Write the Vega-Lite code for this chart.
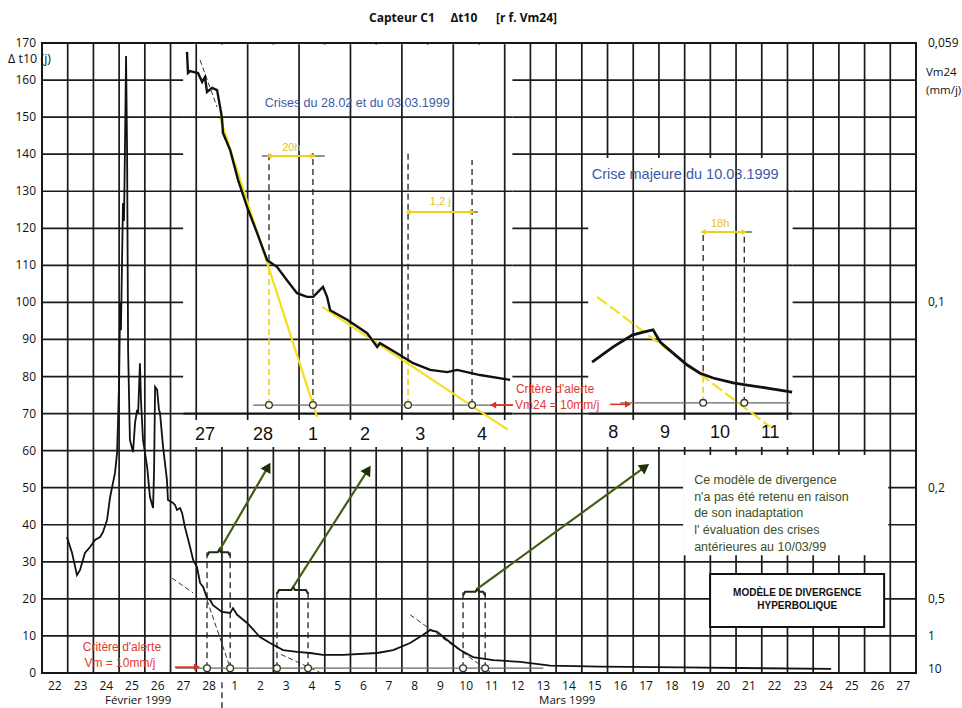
{
"$schema": "https://vega.github.io/schema/vega-lite/v6.json",
"width": 874, "height": 630,
"autosize": {"type": "none"},
"padding": {"left": 42, "top": 43, "right": 46, "bottom": 35},
"background": "white",
"config": {"view": {"stroke": "#111", "strokeWidth": 2}, "font": "Open Sans", "axis": {"disable": true}, "text": {"font": "Liberation Sans"}},
"datasets": {
"gv": [{"d":0},{"d":1},{"d":2},{"d":3},{"d":4},{"d":5},{"d":6},{"d":7},{"d":8},{"d":9},{"d":10},{"d":11},{"d":12},{"d":13},{"d":14},{"d":15},{"d":16},{"d":17},{"d":18},{"d":19},{"d":20},{"d":21},{"d":22},{"d":23},{"d":24},{"d":25},{"d":26},{"d":27},{"d":28},{"d":29},{"d":30},{"d":31},{"d":32},{"d":33},{"d":34}],
"gh": [{"v":0},{"v":10},{"v":20},{"v":30},{"v":40},{"v":50},{"v":60},{"v":70},{"v":80},{"v":90},{"v":100},{"v":110},{"v":120},{"v":130},{"v":140},{"v":150},{"v":160},{"v":170}],
"xlab": [{"d":0.5,"t":"22"},{"d":1.5,"t":"23"},{"d":2.5,"t":"24"},{"d":3.5,"t":"25"},{"d":4.5,"t":"26"},{"d":5.5,"t":"27"},{"d":6.5,"t":"28"},{"d":7.5,"t":"1"},{"d":8.5,"t":"2"},{"d":9.5,"t":"3"},{"d":10.5,"t":"4"},{"d":11.5,"t":"5"},{"d":12.5,"t":"6"},{"d":13.5,"t":"7"},{"d":14.5,"t":"8"},{"d":15.5,"t":"9"},{"d":16.5,"t":"10"},{"d":17.5,"t":"11"},{"d":18.5,"t":"12"},{"d":19.5,"t":"13"},{"d":20.5,"t":"14"},{"d":21.5,"t":"15"},{"d":22.5,"t":"16"},{"d":23.5,"t":"17"},{"d":24.5,"t":"18"},{"d":25.5,"t":"19"},{"d":26.5,"t":"20"},{"d":27.5,"t":"21"},{"d":28.5,"t":"22"},{"d":29.5,"t":"23"},{"d":30.5,"t":"24"},{"d":31.5,"t":"25"},{"d":32.5,"t":"26"},{"d":33.5,"t":"27"}],
"ylab": [{"v":0,"t":"0"},{"v":10,"t":"10"},{"v":20,"t":"20"},{"v":30,"t":"30"},{"v":40,"t":"40"},{"v":50,"t":"50"},{"v":60,"t":"60"},{"v":70,"t":"70"},{"v":80,"t":"80"},{"v":90,"t":"90"},{"v":100,"t":"100"},{"v":110,"t":"110"},{"v":120,"t":"120"},{"v":130,"t":"130"},{"v":140,"t":"140"},{"v":150,"t":"150"},{"v":160,"t":"160"},{"v":170,"t":"170"}],
"ytitle": [{"v":165.7,"t":"Δ t10 (j)"}],
"main": [{"d":0.97,"v":36.7},{"d":1.17,"v":32.4},{"d":1.36,"v":26.4},{"d":1.48,"v":27.8},{"d":1.67,"v":32.4},{"d":1.87,"v":34.0},{"d":2.06,"v":35.9},{"d":2.26,"v":36.7},{"d":2.37,"v":38.0},{"d":2.53,"v":41.3},{"d":2.65,"v":47.5},{"d":2.84,"v":54.0},{"d":2.92,"v":59.4},{"d":2.96,"v":68.3},{"d":3.0,"v":79.0},{"d":3.04,"v":100.0},{"d":3.07,"v":92.5},{"d":3.15,"v":126.8},{"d":3.19,"v":122.0},{"d":3.23,"v":143.0},{"d":3.27,"v":166.5},{"d":3.31,"v":141.0},{"d":3.35,"v":87.0},{"d":3.42,"v":62.9},{"d":3.54,"v":59.6},{"d":3.62,"v":67.5},{"d":3.70,"v":71.0},{"d":3.74,"v":70.2},{"d":3.81,"v":83.6},{"d":3.85,"v":73.7},{"d":3.93,"v":62.9},{"d":4.09,"v":55.6},{"d":4.20,"v":47.5},{"d":4.32,"v":44.5},{"d":4.36,"v":54.8},{"d":4.40,"v":77.2},{"d":4.48,"v":76.4},{"d":4.55,"v":71.0},{"d":4.59,"v":70.2},{"d":4.71,"v":61.0},{"d":4.86,"v":52.1},{"d":4.90,"v":46.7},{"d":5.10,"v":45.9},{"d":5.18,"v":45.3},{"d":5.25,"v":44.0},{"d":5.37,"v":44.5},{"d":5.45,"v":43.2},{"d":5.56,"v":39.4},{"d":5.76,"v":34.0},{"d":5.88,"v":30.5},{"d":6.03,"v":28.6},{"d":6.15,"v":24.3},{"d":6.27,"v":23.2},{"d":6.42,"v":20.2},{"d":6.54,"v":19.7},{"d":6.65,"v":18.3},{"d":7.0,"v":16.5},{"d":7.32,"v":16.2},{"d":7.43,"v":17.5},{"d":7.59,"v":15.7},{"d":7.98,"v":13.5},{"d":8.48,"v":9.7},{"d":8.87,"v":8.1},{"d":9.38,"v":6.2},{"d":9.92,"v":5.7},{"d":10.43,"v":5.4},{"d":10.93,"v":4.9},{"d":11.71,"v":4.9},{"d":13.04,"v":5.4},{"d":13.66,"v":6.2},{"d":14.32,"v":8.1},{"d":14.83,"v":10.3},{"d":15.10,"v":11.6},{"d":15.37,"v":11.1},{"d":15.76,"v":8.9},{"d":16.27,"v":6.2},{"d":16.77,"v":4.3},{"d":17.55,"v":3.5},{"d":18.6,"v":3.0},{"d":19.77,"v":2.0},{"d":21.7,"v":1.7},{"d":24.9,"v":1.5},{"d":30.7,"v":1.1}],
"inset1": [{"d":5.64,"v":167.6},{"d":5.68,"v":161.9},{"d":5.76,"v":162.4},{"d":5.88,"v":162.2},{"d":6.07,"v":161.9},{"d":6.23,"v":159.5},{"d":6.34,"v":160.8},{"d":6.42,"v":156.8},{"d":6.62,"v":157.9},{"d":6.81,"v":157.3},{"d":6.93,"v":152.7},{"d":7.0,"v":149.8},{"d":7.04,"v":145.7},{"d":7.32,"v":141.1},{"d":7.63,"v":133.0},{"d":7.98,"v":125.7},{"d":8.37,"v":118.7},{"d":8.76,"v":111.4},{"d":9.14,"v":109.6},{"d":9.53,"v":106.0},{"d":9.92,"v":102.5},{"d":10.31,"v":101.5},{"d":10.55,"v":101.5},{"d":10.93,"v":104.2},{"d":11.09,"v":101.5},{"d":11.21,"v":97.9},{"d":11.87,"v":95.3},{"d":12.65,"v":91.7},{"d":13.04,"v":88.0},{"d":13.15,"v":89.0},{"d":13.81,"v":86.3},{"d":14.44,"v":83.6},{"d":15.10,"v":81.8},{"d":15.76,"v":81.2},{"d":16.15,"v":81.8},{"d":17.04,"v":80.4},{"d":18.21,"v":79.1}],
"inset2": [{"d":21.40,"v":83.9},{"d":22.22,"v":88.0},{"d":22.96,"v":91.2},{"d":23.39,"v":92.0},{"d":23.77,"v":92.6},{"d":24.05,"v":89.3},{"d":24.55,"v":86.3},{"d":25.10,"v":83.1},{"d":25.60,"v":80.9},{"d":26.11,"v":79.6},{"d":26.89,"v":78.3},{"d":27.43,"v":77.7},{"d":28.21,"v":76.9},{"d":29.18,"v":75.8}],
"boxes": [{"d":5.49,"d2":18.3,"v":61,"v2":169.6},{"d":21.25,"d2":29.2,"v":61,"v2":139},{"d":24.94,"d2":32.92,"v":31.8,"v2":58.8}],
"modbox": [{"d":25.99,"d2":32.76,"v":12.4,"v2":26.7}],
"igv": [{"d":6,"v":68.3,"v2":169.6},{"d":8,"v":68.3,"v2":169.6},{"d":10,"v":68.3,"v2":169.6},{"d":12,"v":68.3,"v2":169.6},{"d":14,"v":68.3,"v2":169.6},{"d":16,"v":68.3,"v2":169.6},{"d":18,"v":68.3,"v2":169.6},{"d":23,"v":68.3,"v2":139},{"d":25,"v":68.3,"v2":139},{"d":27,"v":68.3,"v2":139},{"d":29,"v":68.3,"v2":139}],
"igh": [{"v":150,"d":5.49,"d2":18.3},{"v":130,"d":5.49,"d2":18.3},{"v":110,"d":5.49,"d2":18.3},{"v":90,"d":5.49,"d2":18.3},{"v":130,"d":21.25,"d2":29.2},{"v":110,"d":21.25,"d2":29.2},{"v":90,"d":21.25,"d2":29.2}],
"ig70": [{"v":70,"d":5.49,"d2":18.3},{"v":70,"d":21.25,"d2":29.2}],
"tang": [{"g":1,"d":5.06,"v":25.6},{"g":1,"d":5.88,"v":21.6},{"g":2,"d":6.42,"v":19.7},{"g":2,"d":7.39,"v":0},{"g":3,"d":9.3,"v":5.0},{"g":3,"d":10.86,"v":0},{"g":4,"d":14.32,"v":15.7},{"g":4,"d":17.43,"v":0.3},{"g":5,"d":6.15,"v":165.4},{"g":5,"d":6.81,"v":152.7}],
"thin": [{"d":5.2,"d2":19.5,"v":1.3},{"d":8.21,"d2":18.3,"v":72.3},{"d":22.5,"d2":29.1,"v":72.9}],
"dvb": [{"d":8.83,"v":111.4,"v2":140.3},{"d":10.54,"v":72.3,"v2":140.3},{"d":14.24,"v":84.5,"v2":140.3},{"d":16.73,"v":72.3,"v2":138.4},{"d":25.72,"v":81.5,"v2":119},{"d":27.32,"v":72.9,"v2":119},{"d":6.42,"v":1.3,"v2":33.5},{"d":7.32,"v":1.3,"v2":33.5},{"d":9.14,"v":1.3,"v2":22.8},{"d":10.35,"v":1.3,"v2":22.8},{"d":16.38,"v":1.3,"v2":22.3},{"d":17.24,"v":1.3,"v2":22.3},{"d":7.0,"v":-9.5,"v2":-2}],
"dvy": [{"d":8.83,"v":72.3,"v2":111.4},{"d":14.24,"v":72.3,"v2":84.5},{"d":25.72,"v":72.9,"v2":81.5}],
"yl": [{"g":"A","d":6.93,"v":149.8},{"g":"A","d":10.7,"v":69.1},{"g":"B","d":10.9,"v":98.8},{"g":"B","d":18.13,"v":65.6}],
"yld": [{"d":21.6,"v":101.5},{"d":28.33,"v":66.4}],
"brk": [{"g":1,"d":6.42,"v":31.6},{"g":1,"d":6.5,"v":32.6},{"g":1,"d":6.84,"v":32.6},{"g":1,"d":6.9,"v":33.4},{"g":1,"d":6.96,"v":32.6},{"g":1,"d":7.24,"v":32.6},{"g":1,"d":7.32,"v":31.6},{"g":2,"d":9.14,"v":21.4},{"g":2,"d":9.22,"v":22.4},{"g":2,"d":9.7,"v":22.4},{"g":2,"d":9.77,"v":23.2},{"g":2,"d":9.84,"v":22.4},{"g":2,"d":10.27,"v":22.4},{"g":2,"d":10.35,"v":21.4},{"g":3,"d":16.38,"v":20.9},{"g":3,"d":16.46,"v":21.9},{"g":3,"d":16.86,"v":21.9},{"g":3,"d":16.93,"v":22.7},{"g":3,"d":17.0,"v":21.9},{"g":3,"d":17.16,"v":21.9},{"g":3,"d":17.24,"v":20.9}],
"garr": [{"id":1,"d":6.93,"v":33.4,"d2":8.79,"v2":55.6},{"id":2,"d":9.77,"v":23.2,"d2":12.68,"v2":54.8},{"id":3,"d":16.93,"v":22.7,"d2":23.46,"v2":55.6}],
"rarr": [{"d":17.55,"d2":18.33,"v":72.3,"dir":"L"},{"d":22.8,"d2":22.1,"v":72.5,"dir":"R"},{"d":6.03,"d2":5.17,"v":1.6,"dir":"R"}],
"yarr": [{"d":8.83,"d2":10.54,"v":139.5},{"d":14.24,"d2":16.73,"v":124.4},{"d":25.72,"d2":27.32,"v":119}],
"ybl": [{"d":8.56,"d2":11.0,"v":139.5},{"d":14.32,"d2":16.96,"v":124.4},{"d":25.72,"d2":27.63,"v":119}],
"circ": [{"d":8.83,"v":72.3},{"d":10.54,"v":72.3},{"d":14.24,"v":72.3},{"d":16.73,"v":72.3},{"d":25.72,"v":72.9},{"d":27.32,"v":72.9},{"d":6.42,"v":1.3},{"d":7.32,"v":1.3},{"d":9.14,"v":1.3},{"d":10.35,"v":1.3},{"d":16.38,"v":1.3},{"d":17.24,"v":1.3}],
"blue1": [{"d":12.26,"v":153.8,"t":"Crises du 28.02 et du 03.03.1999"}],
"blue2": [{"d":25.02,"v":134.4,"t":"Crise majeure du 10.03.1999"}],
"ytext": [{"d":9.7,"v":141.8,"t":"20h"},{"d":15.49,"v":127.1,"t":"1,2 j"},{"d":26.38,"v":121.2,"t":"18h"}],
"red": [{"d":3.11,"v":7.0,"t":"Critère d'alerte"},{"d":3.03,"v":2.7,"t":"Vm = 10mm/j"},{"d":19.96,"v":76.6,"t":"Critère d'alerte"},{"d":20.04,"v":72.3,"t":"Vm24 = 10mm/j"}],
"ilab": [{"d":6.34,"v":64.2,"t":"27"},{"d":8.6,"v":64.2,"t":"28"},{"d":10.54,"v":64.2,"t":"1"},{"d":12.57,"v":64.2,"t":"2"},{"d":14.71,"v":64.2,"t":"3"},{"d":17.12,"v":64.2,"t":"4"},{"d":22.22,"v":64.8,"t":"8"},{"d":24.24,"v":64.8,"t":"9"},{"d":26.38,"v":64.8,"t":"10"},{"d":28.33,"v":64.8,"t":"11"}],
"green": [{"d":25.37,"v":52.1,"t":"Ce modèle de divergence"},{"d":25.37,"v":47.5,"t":"n'a pas  été  retenu en raison"},{"d":25.37,"v":43.2,"t":"de son inadaptation"},{"d":25.37,"v":38.6,"t":"l' évaluation des crises"},{"d":25.37,"v":34.0,"t":"antérieures au 10/03/99"}],
"boxt": [{"d":29.38,"v":21.6,"t":"MODÈLE DE DIVERGENCE"},{"d":29.38,"v":18.1,"t":"HYPERBOLIQUE"}],
"month": [{"d":3.74,"v":-7.6,"t":"Février 1999"},{"d":20.43,"v":-7.6,"t":"Mars 1999"}],
"rlab": [{"v":170,"t":"0,059"},{"v":100,"t":"0,1"},{"v":50,"t":"0,2"},{"v":20,"t":"0,5"},{"v":10,"t":"1"},{"v":1,"t":"10"}],
"rtitle": [{"v":161.9,"t":"Vm24"},{"v":157.0,"t":"(mm/j)"}],
"ttl": [{"d":16.38,"v":176.7,"t":"Capteur C1\u00a0\u00a0\u00a0\u00a0\u00a0Δt10\u00a0\u00a0\u00a0\u00a0\u00a0\u00a0[r f. Vm24]"}]
},
"layer": [
{"data": {"name": "gv"}, "mark": {"type": "rule", "color": "#1a1a1a", "strokeWidth": 1.7},
 "encoding": {"x": {"field": "d", "type": "quantitative", "scale": {"domain": [0, 34], "nice": false, "zero": false}, "axis": null},
  "y": {"datum": 0, "type": "quantitative", "scale": {"domain": [0, 170], "nice": false, "zero": false}, "axis": null}, "y2": {"datum": 170}}},
{"data": {"name": "gh"}, "mark": {"type": "rule", "color": "#1a1a1a", "strokeWidth": 1.7},
 "encoding": {"x": {"datum": 0, "type": "quantitative", "axis": null}, "x2": {"datum": 34}, "y": {"field": "v", "type": "quantitative", "axis": null}}},
{"data": {"name": "boxes"}, "mark": {"type": "rect", "fill": "white"},
 "encoding": {"x": {"field": "d", "type": "quantitative", "axis": null}, "x2": {"field": "d2"}, "y": {"field": "v", "type": "quantitative", "axis": null}, "y2": {"field": "v2"}}},
{"data": {"name": "modbox"}, "mark": {"type": "rect", "fill": "white", "stroke": "#111", "strokeWidth": 2},
 "encoding": {"x": {"field": "d", "type": "quantitative", "axis": null}, "x2": {"field": "d2"}, "y": {"field": "v", "type": "quantitative", "axis": null}, "y2": {"field": "v2"}}},
{"data": {"name": "igv"}, "mark": {"type": "rule", "color": "#1a1a1a", "strokeWidth": 1.7},
 "encoding": {"x": {"field": "d", "type": "quantitative", "axis": null}, "y": {"field": "v", "type": "quantitative", "axis": null}, "y2": {"field": "v2"}}},
{"data": {"name": "igh"}, "mark": {"type": "rule", "color": "#1a1a1a", "strokeWidth": 1.7},
 "encoding": {"x": {"field": "d", "type": "quantitative", "axis": null}, "x2": {"field": "d2"}, "y": {"field": "v", "type": "quantitative", "axis": null}}},
{"data": {"name": "ig70"}, "mark": {"type": "rule", "color": "#111", "strokeWidth": 2.4},
 "encoding": {"x": {"field": "d", "type": "quantitative", "axis": null}, "x2": {"field": "d2"}, "y": {"field": "v", "type": "quantitative", "axis": null}}},
{"data": {"name": "tang"}, "mark": {"type": "line", "color": "#333", "strokeWidth": 1, "strokeDash": [5, 3]},
 "encoding": {"x": {"field": "d", "type": "quantitative", "axis": null}, "y": {"field": "v", "type": "quantitative", "axis": null}, "detail": {"field": "g"}}},
{"data": {"name": "thin"}, "mark": {"type": "rule", "color": "#666", "strokeWidth": 1.2},
 "encoding": {"x": {"field": "d", "type": "quantitative", "axis": null}, "x2": {"field": "d2"}, "y": {"field": "v", "type": "quantitative", "axis": null}}},
{"data": {"name": "dvb"}, "mark": {"type": "rule", "color": "#222", "strokeWidth": 1.3, "strokeDash": [6, 4]},
 "encoding": {"x": {"field": "d", "type": "quantitative", "axis": null}, "y": {"field": "v", "type": "quantitative", "axis": null}, "y2": {"field": "v2"}}},
{"data": {"name": "dvy"}, "mark": {"type": "rule", "color": "#e8d21a", "strokeWidth": 1.6, "strokeDash": [6, 4]},
 "encoding": {"x": {"field": "d", "type": "quantitative", "axis": null}, "y": {"field": "v", "type": "quantitative", "axis": null}, "y2": {"field": "v2"}}},
{"data": {"name": "yl"}, "mark": {"type": "line", "color": "#f2e01e", "strokeWidth": 2.2},
 "encoding": {"x": {"field": "d", "type": "quantitative", "axis": null}, "y": {"field": "v", "type": "quantitative", "axis": null}, "detail": {"field": "g"}}},
{"data": {"name": "yld"}, "mark": {"type": "line", "color": "#f2e01e", "strokeWidth": 2.2, "strokeDash": [12, 4]},
 "encoding": {"x": {"field": "d", "type": "quantitative", "axis": null}, "y": {"field": "v", "type": "quantitative", "axis": null}}},
{"data": {"name": "main"}, "mark": {"type": "line", "color": "#111", "strokeWidth": 1.8},
 "encoding": {"x": {"field": "d", "type": "quantitative", "axis": null}, "y": {"field": "v", "type": "quantitative", "axis": null}}},
{"data": {"name": "inset1"}, "mark": {"type": "line", "color": "#111", "strokeWidth": 2.4},
 "encoding": {"x": {"field": "d", "type": "quantitative", "axis": null}, "y": {"field": "v", "type": "quantitative", "axis": null}}},
{"data": {"name": "inset2"}, "mark": {"type": "line", "color": "#111", "strokeWidth": 2.8},
 "encoding": {"x": {"field": "d", "type": "quantitative", "axis": null}, "y": {"field": "v", "type": "quantitative", "axis": null}}},
{"data": {"name": "brk"}, "mark": {"type": "line", "color": "#1c2a10", "strokeWidth": 2},
 "encoding": {"x": {"field": "d", "type": "quantitative", "axis": null}, "y": {"field": "v", "type": "quantitative", "axis": null}, "detail": {"field": "g"}}},
{"data": {"name": "garr"}, "mark": {"type": "rule", "color": "#3f5f12", "strokeWidth": 2.2},
 "encoding": {"x": {"field": "d", "type": "quantitative", "axis": null}, "x2": {"field": "d2"}, "y": {"field": "v", "type": "quantitative", "axis": null}, "y2": {"field": "v2"}}},
{"data": {"name": "garr"}, "transform": [{"filter": "datum.id == 1"}], "mark": {"type": "point", "shape": "triangle-up", "angle": 30, "filled": true, "size": 130, "color": "#1f3008", "opacity": 1},
 "encoding": {"x": {"field": "d2", "type": "quantitative", "axis": null}, "y": {"field": "v2", "type": "quantitative", "axis": null}}},
{"data": {"name": "garr"}, "transform": [{"filter": "datum.id == 2"}], "mark": {"type": "point", "shape": "triangle-up", "angle": 33, "filled": true, "size": 130, "color": "#1f3008", "opacity": 1},
 "encoding": {"x": {"field": "d2", "type": "quantitative", "axis": null}, "y": {"field": "v2", "type": "quantitative", "axis": null}}},
{"data": {"name": "garr"}, "transform": [{"filter": "datum.id == 3"}], "mark": {"type": "point", "shape": "triangle-up", "angle": 54, "filled": true, "size": 130, "color": "#1f3008", "opacity": 1},
 "encoding": {"x": {"field": "d2", "type": "quantitative", "axis": null}, "y": {"field": "v2", "type": "quantitative", "axis": null}}},
{"data": {"name": "rarr"}, "mark": {"type": "rule", "color": "#e0301e", "strokeWidth": 1.6},
 "encoding": {"x": {"field": "d", "type": "quantitative", "axis": null}, "x2": {"field": "d2"}, "y": {"field": "v", "type": "quantitative", "axis": null}}},
{"data": {"name": "rarr"}, "transform": [{"filter": "datum.dir == 'L'"}], "mark": {"type": "point", "shape": "triangle-left", "filled": true, "size": 50, "color": "#e0301e", "opacity": 1},
 "encoding": {"x": {"field": "d", "type": "quantitative", "axis": null}, "y": {"field": "v", "type": "quantitative", "axis": null}}},
{"data": {"name": "rarr"}, "transform": [{"filter": "datum.dir == 'R'"}], "mark": {"type": "point", "shape": "triangle-right", "filled": true, "size": 50, "color": "#e0301e", "opacity": 1},
 "encoding": {"x": {"field": "d", "type": "quantitative", "axis": null}, "y": {"field": "v", "type": "quantitative", "axis": null}}},
{"data": {"name": "ybl"}, "mark": {"type": "rule", "color": "#222", "strokeWidth": 1},
 "encoding": {"x": {"field": "d", "type": "quantitative", "axis": null}, "x2": {"field": "d2"}, "y": {"field": "v", "type": "quantitative", "axis": null}}},
{"data": {"name": "yarr"}, "mark": {"type": "rule", "color": "#ecd21c", "strokeWidth": 2},
 "encoding": {"x": {"field": "d", "type": "quantitative", "axis": null}, "x2": {"field": "d2"}, "y": {"field": "v", "type": "quantitative", "axis": null}}},
{"data": {"name": "yarr"}, "mark": {"type": "point", "shape": "triangle-left", "filled": true, "size": 35, "color": "#ecd21c", "opacity": 1},
 "encoding": {"x": {"field": "d", "type": "quantitative", "axis": null}, "y": {"field": "v", "type": "quantitative", "axis": null}}},
{"data": {"name": "yarr"}, "mark": {"type": "point", "shape": "triangle-right", "filled": true, "size": 35, "color": "#ecd21c", "opacity": 1},
 "encoding": {"x": {"field": "d2", "type": "quantitative", "axis": null}, "y": {"field": "v", "type": "quantitative", "axis": null}}},
{"data": {"name": "circ"}, "mark": {"type": "point", "shape": "circle", "filled": true, "fill": "#fdfbe6", "stroke": "#333", "strokeWidth": 1.3, "size": 45, "opacity": 1},
 "encoding": {"x": {"field": "d", "type": "quantitative", "axis": null}, "y": {"field": "v", "type": "quantitative", "axis": null}}},
{"data": {"name": "blue1"}, "mark": {"type": "text", "font": "Liberation Sans", "fontSize": 12.5, "color": "#3c5aa6"},
 "encoding": {"x": {"field": "d", "type": "quantitative", "axis": null}, "y": {"field": "v", "type": "quantitative", "axis": null}, "text": {"field": "t"}}},
{"data": {"name": "blue2"}, "mark": {"type": "text", "font": "Liberation Sans", "fontSize": 14.5, "color": "#3c5aa6"},
 "encoding": {"x": {"field": "d", "type": "quantitative", "axis": null}, "y": {"field": "v", "type": "quantitative", "axis": null}, "text": {"field": "t"}}},
{"data": {"name": "ytext"}, "mark": {"type": "text", "font": "Liberation Sans", "fontSize": 11, "color": "#e2c21a"},
 "encoding": {"x": {"field": "d", "type": "quantitative", "axis": null}, "y": {"field": "v", "type": "quantitative", "axis": null}, "text": {"field": "t"}}},
{"data": {"name": "red"}, "mark": {"type": "text", "font": "Liberation Sans", "fontSize": 12, "color": "#e33b2a"},
 "encoding": {"x": {"field": "d", "type": "quantitative", "axis": null}, "y": {"field": "v", "type": "quantitative", "axis": null}, "text": {"field": "t"}}},
{"data": {"name": "ilab"}, "mark": {"type": "text", "font": "Liberation Sans", "fontSize": 18, "color": "#111"},
 "encoding": {"x": {"field": "d", "type": "quantitative", "axis": null}, "y": {"field": "v", "type": "quantitative", "axis": null}, "text": {"field": "t"}}},
{"data": {"name": "green"}, "mark": {"type": "text", "font": "Liberation Sans", "fontSize": 12.5, "color": "#3d5020", "align": "left"},
 "encoding": {"x": {"field": "d", "type": "quantitative", "axis": null}, "y": {"field": "v", "type": "quantitative", "axis": null}, "text": {"field": "t"}}},
{"data": {"name": "boxt"}, "mark": {"type": "text", "font": "Liberation Sans", "fontSize": 10, "fontWeight": "bold", "color": "#111"},
 "encoding": {"x": {"field": "d", "type": "quantitative", "axis": null}, "y": {"field": "v", "type": "quantitative", "axis": null}, "text": {"field": "t"}}},
{"data": {"name": "xlab"}, "mark": {"type": "text", "font": "Open Sans", "fontSize": 12, "color": "#111", "baseline": "middle"},
 "encoding": {"x": {"field": "d", "type": "quantitative", "axis": null}, "y": {"datum": -3.5, "type": "quantitative", "axis": null}, "text": {"field": "t"}}},
{"data": {"name": "ylab"}, "mark": {"type": "text", "font": "Open Sans", "fontSize": 12, "color": "#111", "align": "right", "baseline": "middle", "dx": -6},
 "encoding": {"x": {"datum": 0, "type": "quantitative", "axis": null}, "y": {"field": "v", "type": "quantitative", "axis": null}, "text": {"field": "t"}}},
{"data": {"name": "ytitle"}, "mark": {"type": "text", "font": "Open Sans", "fontSize": 12.5, "color": "#111", "align": "left", "baseline": "middle", "dx": -34},
 "encoding": {"x": {"datum": 0, "type": "quantitative", "axis": null}, "y": {"field": "v", "type": "quantitative", "axis": null}, "text": {"field": "t"}}},
{"data": {"name": "month"}, "mark": {"type": "text", "font": "Open Sans", "fontSize": 11.5, "color": "#111", "baseline": "middle"},
 "encoding": {"x": {"field": "d", "type": "quantitative", "axis": null}, "y": {"field": "v", "type": "quantitative", "axis": null}, "text": {"field": "t"}}},
{"data": {"name": "rlab"}, "mark": {"type": "text", "font": "Open Sans", "fontSize": 12, "color": "#111", "align": "left", "baseline": "middle", "dx": 12},
 "encoding": {"x": {"datum": 34, "type": "quantitative", "axis": null}, "y": {"field": "v", "type": "quantitative", "axis": null}, "text": {"field": "t"}}},
{"data": {"name": "rtitle"}, "mark": {"type": "text", "font": "Open Sans", "fontSize": 11.5, "color": "#111", "align": "left", "baseline": "middle", "dx": 10},
 "encoding": {"x": {"datum": 34, "type": "quantitative", "axis": null}, "y": {"field": "v", "type": "quantitative", "axis": null}, "text": {"field": "t"}}},
{"data": {"name": "ttl"}, "mark": {"type": "text", "font": "Open Sans", "fontSize": 12, "fontWeight": "bold", "color": "#111", "baseline": "middle"},
 "encoding": {"x": {"field": "d", "type": "quantitative", "axis": null}, "y": {"field": "v", "type": "quantitative", "axis": null}, "text": {"field": "t"}}}
]
}
